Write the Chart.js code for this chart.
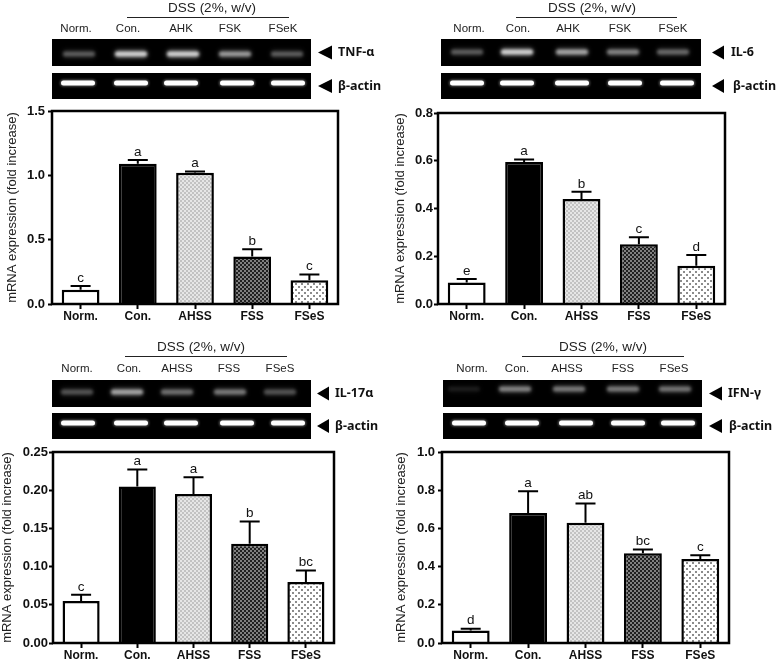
<!DOCTYPE html>
<html>
<head>
<meta charset="utf-8">
<title>mRNA expression</title>
<script src="https://cdn.jsdelivr.net/npm/chart.js@4"></script>
<style>
  html, body { margin: 0; padding: 0; background: #fff; }
  canvas { position: absolute; filter: blur(0.35px); }
</style>
</head>
<body>
<canvas id="tnf" width="388" height="330"></canvas>
<canvas id="il6" width="389" height="330"></canvas>
<canvas id="il17" width="388" height="331"></canvas>
<canvas id="ifn" width="389" height="331"></canvas>
<script>
// DATA

const categories = ['Norm.', 'Con.', 'AHSS', 'FSS', 'FSeS'];
const lanesTop = ['Norm.', 'Con.', 'AHK', 'FSK', 'FSeK'];
const lanesBottom = ['Norm.', 'Con.', 'AHSS', 'FSS', 'FSeS'];

const tnfValues = [0.11, 1.09, 1.02, 0.37, 0.185];
const tnfUpper = [0.14, 1.12, 1.03, 0.425, 0.23];
const tnfLetters = ['c', 'a', 'a', 'b', 'c'];
const tnfTicks = ['0.0', '0.5', '1.0', '1.5'];
const tnfBands = [0.28, 0.75, 0.75, 0.5, 0.28];

const il6Values = [0.09, 0.595, 0.44, 0.25, 0.16];
const il6Upper = [0.105, 0.605, 0.47, 0.28, 0.205];
const il6Letters = ['e', 'a', 'b', 'c', 'd'];
const il6Ticks = ['0.0', '0.2', '0.4', '0.6', '0.8'];
const il6Bands = [0.28, 0.75, 0.55, 0.42, 0.32];

const il17Values = [0.055, 0.205, 0.195, 0.13, 0.08];
const il17Upper = [0.063, 0.227, 0.217, 0.159, 0.095];
const il17Letters = ['c', 'a', 'a', 'b', 'bc'];
const il17Ticks = ['0.00', '0.05', '0.10', '0.15', '0.20', '0.25'];
const il17Bands = [0.25, 0.55, 0.35, 0.38, 0.25];

const ifnValues = [0.065, 0.68, 0.63, 0.47, 0.44];
const ifnUpper = [0.075, 0.795, 0.73, 0.49, 0.46];
const ifnLetters = ['d', 'a', 'ab', 'bc', 'c'];
const ifnTicks = ['0.0', '0.2', '0.4', '0.6', '0.8', '1.0'];
const ifnBands = [0.08, 0.42, 0.38, 0.38, 0.36];

const actinBands = [1, 1, 1, 1, 1];

// LAYOUT (page pixels)

const panels = [
  {
    id: 'tnf', ox: 0, oy: 0, w: 388, h: 330,
    plot: { l: 52, t: 111, r: 338, b: 304 }, max: 1.5, step: 0.5, tickPad: 3, titlePad: 5,
    values: tnfValues, upper: tnfUpper, letters: tnfLetters, ticks: tnfTicks,
    dss: { x: 212, y: 8, l: 127, r: 289, ly: 17 },
    lanes: lanesTop, laneY: 29, laneX: [76, 128, 181, 230, 283],
    gel: { l: 52, r: 311, t: 39, b: 66, by: 54, bx: [79, 131, 183, 235, 287], bands: tnfBands },
    actin: { t: 73, b: 99, by: 83, bx: [78, 131, 181, 237, 288] },
    name: 'TNF-α', arrowL: 318, arrowR: 332, nameX: 338, actinX: 338
  },
  {
    id: 'il6', ox: 388, oy: 0, w: 389, h: 330,
    plot: { l: 438, t: 113, r: 725, b: 304 }, max: 0.8, step: 0.2, tickPad: 1, titlePad: 5,
    values: il6Values, upper: il6Upper, letters: il6Letters, ticks: il6Ticks,
    dss: { x: 592, y: 8, l: 516, r: 677, ly: 17 },
    lanes: lanesTop, laneY: 29, laneX: [469, 518, 568, 620, 673],
    gel: { l: 441, r: 701, t: 39, b: 66, by: 52, bx: [467, 517, 572, 623, 673], bands: il6Bands },
    actin: { t: 73, b: 99, by: 83, bx: [467, 517, 572, 625, 677] },
    name: 'IL-6', arrowL: 712, arrowR: 724, nameX: 731, actinX: 733
  },
  {
    id: 'il17', ox: 0, oy: 330, w: 388, h: 331,
    plot: { l: 53, t: 452, r: 334, b: 643 }, max: 0.25, step: 0.05, tickPad: 1, titlePad: 0,
    values: il17Values, upper: il17Upper, letters: il17Letters, ticks: il17Ticks,
    dss: { x: 201, y: 347, l: 125, r: 287, ly: 356 },
    lanes: lanesBottom, laneY: 369, laneX: [77, 129, 177, 229, 280],
    gel: { l: 52, r: 311, t: 380, b: 407, by: 392, bx: [77, 127, 177, 230, 280], bands: il17Bands },
    actin: { t: 413, b: 439, by: 423, bx: [78, 131, 181, 237, 288] },
    name: 'IL-17α', arrowL: 317, arrowR: 329, nameX: 335, actinX: 335
  },
  {
    id: 'ifn', ox: 388, oy: 330, w: 389, h: 331,
    plot: { l: 442, t: 452, r: 729, b: 643 }, max: 1.0, step: 0.2, tickPad: 3, titlePad: 6,
    values: ifnValues, upper: ifnUpper, letters: ifnLetters, ticks: ifnTicks,
    dss: { x: 603, y: 347, l: 522, r: 684, ly: 356 },
    lanes: lanesBottom, laneY: 369, laneX: [472, 517, 567, 623, 674],
    gel: { l: 443, r: 702, t: 380, b: 407, by: 389, bx: [464, 515, 569, 623, 675], bands: ifnBands },
    actin: { t: 413, b: 439, by: 423, bx: [469, 522, 576, 628, 678] },
    name: 'IFN-γ', arrowL: 709, arrowR: 722, nameX: 728, actinX: 729
  }
];

const FONT = '"Liberation Sans", Arial, sans-serif';
const GEL_FONT = '"Noto Sans", sans-serif';

// PATTERNS

function makeTile(size, background, dots, dotColor, dotSize) {
  const tile = document.createElement('canvas');
  tile.width = size;
  tile.height = size;
  const c = tile.getContext('2d');
  c.fillStyle = background;
  c.fillRect(0, 0, size, size);
  c.fillStyle = dotColor;
  dots.forEach(d => c.fillRect(d[0], d[1], dotSize, dotSize));
  return c.createPattern(tile, 'repeat');
}

const barFills = [
  '#ffffff',
  '#000000',
  makeTile(4, '#e6e6e6', [[0, 0], [2, 2]], '#c2c2c2', 2),
  makeTile(4, '#808080', [[0, 0], [2, 2]], '#202020', 2),
  makeTile(6, '#ffffff', [[1, 1], [4, 4]], '#8c8c8c', 2)
];

// PLUGINS

function drawGelBand(ctx, cx, cy, halfWidth, thick, alpha, blur) {
  ctx.save();
  ctx.filter = 'blur(' + blur + 'px)';
  ctx.globalAlpha = alpha;
  ctx.fillStyle = '#ffffff';
  ctx.beginPath();
  ctx.roundRect(cx - halfWidth, cy - thick / 2, halfWidth * 2, thick, thick / 2);
  ctx.fill();
  ctx.restore();
}

function drawArrow(ctx, l, r, cy) {
  ctx.fillStyle = '#000000';
  ctx.beginPath();
  ctx.moveTo(l, cy);
  ctx.lineTo(r, cy - 7);
  ctx.lineTo(r, cy + 7);
  ctx.closePath();
  ctx.fill();
}

// header, lane names and gel strips above the plot
const gelPlugin = {
  id: 'gel',
  beforeDraw(chart, args, opts) {
    const p = opts.panel;
    const ctx = chart.ctx;
    ctx.save();
    ctx.translate(-p.ox, -p.oy);
    ctx.textAlign = 'center';
    ctx.textBaseline = 'middle';
    ctx.fillStyle = '#222222';
    ctx.font = '13.5px ' + FONT;
    ctx.fillText('DSS (2%, w/v)', p.dss.x, p.dss.y);
    ctx.strokeStyle = '#222222';
    ctx.lineWidth = 1;
    ctx.beginPath();
    ctx.moveTo(p.dss.l, p.dss.ly + 0.5);
    ctx.lineTo(p.dss.r, p.dss.ly + 0.5);
    ctx.stroke();
    ctx.font = '11.5px ' + FONT;
    p.lanes.forEach((lane, i) => ctx.fillText(lane, p.laneX[i], p.laneY));

    ctx.fillStyle = '#000000';
    ctx.fillRect(p.gel.l, p.gel.t, p.gel.r - p.gel.l, p.gel.b - p.gel.t);
    ctx.fillRect(p.gel.l, p.actin.t, p.gel.r - p.gel.l, p.actin.b - p.actin.t);
    ctx.save();
    ctx.beginPath();
    ctx.rect(p.gel.l, p.gel.t, p.gel.r - p.gel.l, p.actin.b - p.gel.t);
    ctx.clip();
    p.gel.bands.forEach((v, i) => {
      drawGelBand(ctx, p.gel.bx[i], p.gel.by, 17, 9, v * 0.4, 2.2);
      drawGelBand(ctx, p.gel.bx[i], p.gel.by, 16, 5, v, 1.4);
    });
    actinBands.forEach((v, i) => {
      drawGelBand(ctx, p.actin.bx[i], p.actin.by, 18, 7, v * 0.35, 1.2);
      drawGelBand(ctx, p.actin.bx[i], p.actin.by, 17, 5, v, 0.6);
    });
    ctx.restore();

    drawArrow(ctx, p.arrowL, p.arrowR, (p.gel.t + p.gel.b) / 2);
    drawArrow(ctx, p.arrowL, p.arrowR, (p.actin.t + p.actin.b) / 2);
    ctx.fillStyle = '#111111';
    ctx.textAlign = 'left';
    ctx.font = 'bold 12.5px ' + GEL_FONT;
    ctx.fillText(p.name, p.nameX, (p.gel.t + p.gel.b) / 2);
    ctx.fillText('β-actin', p.actinX, (p.actin.t + p.actin.b) / 2);
    ctx.restore();
  }
};

// upper error bars, significance letters and the box around the plot
const errorPlugin = {
  id: 'errors',
  afterDatasetsDraw(chart, args, opts) {
    const ctx = chart.ctx;
    const xs = chart.scales.x;
    const ys = chart.scales.y;
    const a = chart.chartArea;
    ctx.save();
    ctx.strokeStyle = '#000000';
    ctx.lineWidth = 2;
    opts.upper.forEach((u, i) => {
      const x = xs.getPixelForValue(i);
      const top = ys.getPixelForValue(u);
      const base = ys.getPixelForValue(opts.values[i]);
      ctx.beginPath();
      ctx.moveTo(x, base);
      ctx.lineTo(x, top);
      ctx.moveTo(x - 10, top);
      ctx.lineTo(x + 10, top);
      ctx.stroke();
      ctx.fillStyle = '#111111';
      ctx.font = '13.5px ' + FONT;
      ctx.textAlign = 'center';
      ctx.textBaseline = 'middle';
      ctx.fillText(opts.letters[i], x, top - 8);
    });
    ctx.lineWidth = 2.5;
    ctx.strokeRect(a.left, a.top, a.right - a.left, a.bottom - a.top);
    ctx.restore();
  }
};

// CHARTS

panels.forEach(p => {
  const canvas = document.getElementById(p.id);
  canvas.style.left = p.ox + 'px';
  canvas.style.top = p.oy + 'px';
  const axisHeight = 22;

  new Chart(canvas, {
    type: 'bar',
    data: {
      labels: categories,
      datasets: [{
        data: p.values,
        backgroundColor: barFills,
        borderColor: '#000000',
        borderWidth: 2.5,
        borderSkipped: 'bottom',
        barPercentage: 1,
        categoryPercentage: 0.66
      }]
    },
    plugins: [gelPlugin, errorPlugin],
    options: {
      responsive: false,
      animation: false,
      layout: {
        padding: {
          left: 0,
          top: p.plot.t - p.oy,
          right: p.ox + p.w - p.plot.r,
          bottom: p.oy + p.h - p.plot.b - axisHeight
        }
      },
      plugins: {
        legend: { display: false },
        tooltip: { enabled: false },
        gel: { panel: p },
        errors: { values: p.values, upper: p.upper, letters: p.letters }
      },
      scales: {
        x: {
          afterFit(s) { s.height = axisHeight; },
          border: { display: false },
          grid: { offset: false, drawOnChartArea: false, tickLength: 5, tickWidth: 2, tickColor: '#000000' },
          ticks: { color: '#111111', padding: 0, maxRotation: 0, font: { family: FONT, size: 12, weight: 'bold' } }
        },
        y: {
          min: 0,
          max: p.max,
          afterFit(s) { s.width = p.plot.l - p.ox; },
          border: { display: false },
          grid: { drawOnChartArea: false, tickLength: 4, tickWidth: 2, tickColor: '#000000' },
          title: {
            display: true,
            text: 'mRNA expression (fold increase)',
            color: '#222222',
            padding: { top: p.titlePad, bottom: 0 },
            font: { family: FONT, size: 13 }
          },
          ticks: {
            stepSize: p.step,
            padding: p.tickPad,
            color: '#111111',
            font: { family: FONT, size: 13, weight: 'bold' },
            callback: (v, i) => p.ticks[i]
          }
        }
      }
    }
  });
});
</script>
</body>
</html>
